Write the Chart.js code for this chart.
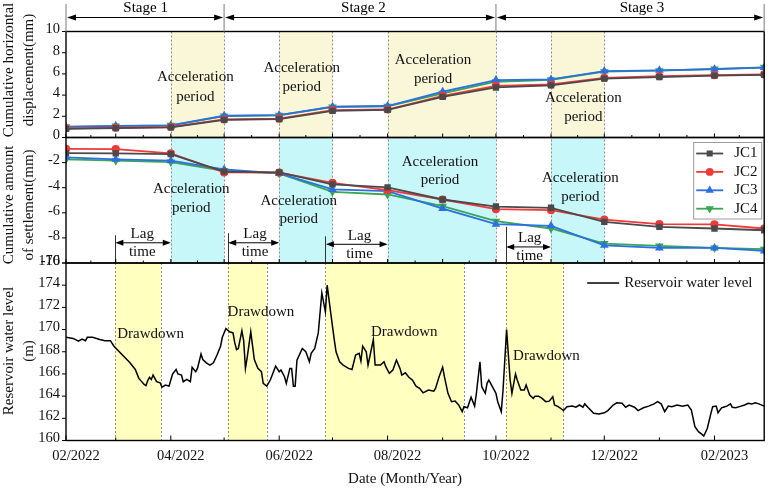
<!DOCTYPE html>
<html>
<head>
<meta charset="utf-8">
<script src="https://cdn.jsdelivr.net/npm/chart.js@4.4.1/dist/chart.umd.min.js"></script>
<style>
html,body{margin:0;padding:0;background:#fff;}
canvas{display:block;}
</style>
</head>
<body>
<canvas id="c" width="770" height="488"></canvas>
<script>
// ---------------- DATA ----------------
// days counted from 1 Feb 2022
const measureDays = [0, 28, 59, 89, 120, 150, 181, 212, 242, 273, 303, 334, 365, 393];

const dispJC1 = [0.82, 0.88, 0.95, 1.66, 1.74, 2.52, 2.60, 3.83, 4.72, 4.92, 5.56, 5.70, 5.84, 5.90];
const dispJC2 = [0.87, 0.92, 0.99, 1.70, 1.78, 2.58, 2.64, 3.92, 4.87, 5.00, 5.62, 5.78, 5.88, 5.95];
const dispJC3 = [1.00, 1.10, 1.15, 2.05, 2.12, 2.90, 2.97, 4.32, 5.42, 5.48, 6.27, 6.34, 6.45, 6.60];
const dispJC4 = [1.02, 1.08, 1.15, 2.02, 2.10, 2.88, 2.95, 4.17, 5.26, 5.45, 6.21, 6.30, 6.46, 6.62];

const settleJC1 = [-1.24, -1.26, -1.32, -2.72, -2.78, -3.74, -3.98, -4.94, -5.50, -5.60, -6.72, -7.12, -7.25, -7.39];
const settleJC2 = [-0.90, -0.92, -1.26, -2.78, -2.80, -3.61, -4.19, -4.94, -5.71, -5.79, -6.54, -6.91, -6.93, -7.25];
const settleJC3 = [-1.58, -1.74, -1.85, -2.54, -2.86, -4.14, -4.27, -5.66, -6.91, -7.04, -8.59, -8.80, -8.80, -9.04];
const settleJC4 = [-1.74, -1.85, -1.96, -2.65, -2.86, -4.33, -4.54, -5.47, -6.67, -7.25, -8.45, -8.64, -8.80, -8.90];

const waterDays = [0,4,7,9,11,12,15,19,22,25,27,30,33,36,39,41,44,45,46,47,48,49,51,53,54,56,58,60,62,63,65,66,68,70,71,73,74,76,77,79,81,83,85,87,88,90,92,94,95,96,97,99,100,101,102,104,106,108,110,111,113,115,118,120,121,123,124,126,127,128,129,130,133,135,137,138,140,142,144,146,147,149,151,152,154,156,159,161,163,165,166,167,169,170,171,173,174,177,179,180,182,184,186,188,189,191,193,195,197,199,201,204,207,208,210,212,213,215,217,219,221,223,224,226,228,230,231,233,234,236,237,238,240,242,243,245,246,248,250,251,253,254,256,258,259,261,263,264,266,268,270,272,274,275,277,278,280,282,285,287,289,291,292,294,297,300,303,305,308,310,313,315,317,320,322,325,328,331,333,335,337,339,341,344,347,350,352,354,356,358,359,361,363,364,366,367,369,370,372,374,375,377,380,382,384,386,388,390,393];
const waterLevel = [169.3,169.2,168.95,169.15,169.0,169.3,169.3,169.1,169.0,169.0,168.5,168.0,167.5,167.0,166.4,165.6,165.05,164.95,165.4,165.7,165.5,165.9,165.3,165.2,164.8,165.0,164.9,166.0,166.4,166.0,165.9,165.3,165.5,165.3,166.6,166.2,166.5,167.8,167.3,167.0,166.8,167.0,167.7,168.5,169.3,170.1,169.8,169.7,168.8,168.2,168.3,169.9,169.0,166.5,167.5,169.8,167.3,166.5,166.2,165.15,164.9,165.45,166.7,166.2,166.35,165.75,165.15,166.5,166.5,164.9,164.9,167.25,168.3,168.0,167.1,167.85,168.3,169.7,173.3,171.6,174.0,171.5,169.1,168.0,167.1,166.8,166.5,166.4,167.7,167.85,167.15,168.5,168.0,166.8,167.55,169.1,166.8,166.8,167.1,166.65,166.05,166.35,167.25,166.5,165.9,166.1,165.7,165.45,164.9,164.7,164.3,164.55,164.45,164.7,165.75,166.6,165.75,164.25,163.5,163.55,163.2,162.6,163.05,162.95,163.9,163.1,164.25,167.1,164.85,164.25,165.15,165.45,164.85,164.25,163.5,162.6,164.55,170.0,165.45,164.25,166.0,165.45,164.55,164.55,165.0,164.1,163.8,164.0,164.0,163.8,163.5,163.55,163.95,163.2,163.05,162.95,162.7,163.05,163.1,163.0,163.2,163.0,163.3,162.95,162.45,162.4,162.5,162.7,163.2,163.4,163.35,163.0,163.2,163.0,162.7,162.95,163.1,163.3,163.5,163.3,162.6,163.1,163.05,163.2,163.1,163.2,162.75,161.25,160.8,160.55,160.4,161.1,162.45,163.05,163.1,162.5,162.95,163.0,163.1,163.3,163.0,162.95,163.1,163.2,163.35,163.3,163.4,163.3,163.1];

const xTickDays = [0, 59, 120, 181, 242, 303, 365];
const xTickLabels = ['02/2022', '04/2022', '06/2022', '08/2022', '10/2022', '12/2022', '02/2023'];
const xMinorDays = [28, 89, 150, 212, 273, 334];
const halfMonthDays = [14, 43.5, 74, 104.5, 135, 165.5, 196.5, 227, 257.5, 288, 318.5, 349.5, 379];

const seriesNames = ['JC1', 'JC2', 'JC3', 'JC4'];
const waterName = 'Reservoir water level';

const stageBounds = [0, 89, 242, 393];
const stageNames = ['Stage 1', 'Stage 2', 'Stage 3'];
const accelPeriods = [[59, 89], [120, 150], [181, 242], [273, 303]];
const drawdownPeriods = [[27.5, 53.5], [91, 113], [146, 224], [247.5, 280]];

// ---------------- LAYOUT / STYLE (not data) ----------------
const FONT = '"Liberation Serif", "Times New Roman", serif';
const seriesStyle = [
  {color: '#4a4a4a', pointStyle: 'rect', rotation: 0},
  {color: '#f03a3a', pointStyle: 'circle', rotation: 0},
  {color: '#2c6fe0', pointStyle: 'triangle', rotation: 0},
  {color: '#38a653', pointStyle: 'triangle', rotation: 180}
];
const stageLabelDays = [44.8, 167.4, 324.2];
const accelTopText = [[72.8, 4.76], [132.7, 5.66], [206.6, 6.42], [291.2, 2.83]];
const accelMidText = [[70.5, -4.87], [131, -5.79], [210.5, -2.68], [289.5, -3.99]];
const drawdownText = [[47.6, 169.6], [109.7, 171.6], [190.4, 169.8], [270.4, 167.6]];
const lagArrows = [
  {from: 27.5, to: 59, y: -8.39, top: -7.79, tx: 42.9},
  {from: 91, to: 120, y: -8.39, top: -7.63, tx: 106.4},
  {from: 146, to: 181, y: -8.51, top: -7.87, tx: 165.2},
  {from: 247.5, to: 273, y: -8.72, top: -7.12, tx: 261}
];

const pts = (days, vals) => days.map((d, i) => ({x: d, y: vals[i]}));
const dispSeries = [dispJC1, dispJC2, dispJC3, dispJC4];
const settleSeries = [settleJC1, settleJC2, settleJC3, settleJC4];

const datasets = [];
dispSeries.forEach((vals, i) => datasets.push({
  label: seriesNames[i], yAxisID: 'yTop', data: pts(measureDays, vals),
  borderColor: seriesStyle[i].color, backgroundColor: seriesStyle[i].color,
  pointStyle: seriesStyle[i].pointStyle, pointRotation: seriesStyle[i].rotation,
  pointRadius: 3.2, borderWidth: 1.8, tension: 0
}));
settleSeries.forEach((vals, i) => datasets.push({
  label: seriesNames[i], yAxisID: 'yMid', data: pts(measureDays, vals),
  borderColor: seriesStyle[i].color, backgroundColor: seriesStyle[i].color,
  pointStyle: seriesStyle[i].pointStyle, pointRotation: seriesStyle[i].rotation,
  pointRadius: 3.2, borderWidth: 1.8, tension: 0
}));
datasets.push({
  label: waterName, yAxisID: 'yBot', data: pts(waterDays, waterLevel),
  borderColor: '#000', backgroundColor: '#000', pointRadius: 0, borderWidth: 1.5, tension: 0
});

// ---------------- helpers ----------------
function arrowHead(ctx, xTip, y, dir, len, hw) {
  ctx.beginPath();
  ctx.moveTo(xTip, y);
  ctx.lineTo(xTip - dir * len, y - hw);
  ctx.lineTo(xTip - dir * len, y + hw);
  ctx.closePath();
  ctx.fill();
}
function dblArrow(ctx, x1, x2, y, len, hw) {
  ctx.beginPath(); ctx.moveTo(x1 + 2, y); ctx.lineTo(x2 - 2, y); ctx.stroke();
  arrowHead(ctx, x1, y, -1, len, hw);
  arrowHead(ctx, x2, y, 1, len, hw);
}
function vline(ctx, x, y1, y2) {
  ctx.beginPath(); ctx.moveTo(x, y1); ctx.lineTo(x, y2); ctx.stroke();
}
function twoLines(ctx, lines, x, yc, gap) {
  const n = lines.length;
  lines.forEach((t, i) => ctx.fillText(t, x, yc + (i - (n - 1) / 2) * gap));
}

const decor = {
  id: 'decor',
  beforeDatasetsDraw(chart) {
    const {ctx, scales} = chart;
    const x = scales.x, yT = scales.yTop, yM = scales.yMid, yB = scales.yBot;
    ctx.save();
    const shade = (periods, ys, color) => periods.forEach(([a, b]) => {
      const xa = x.getPixelForValue(a), xb = x.getPixelForValue(b);
      ctx.fillStyle = color;
      ctx.fillRect(xa, ys.top, xb - xa, ys.bottom - ys.top);
    });
    shade(accelPeriods, yT, '#faf6d8');
    shade(accelPeriods, yM, '#c8f7fa');
    shade(drawdownPeriods, yB, '#ffffc0');

    ctx.setLineDash([2, 2]);
    ctx.strokeStyle = '#8c8c8c';
    ctx.lineWidth = 1;
    accelPeriods.forEach(p => p.forEach(d => vline(ctx, Math.round(x.getPixelForValue(d)) + 0.5, yT.top, yM.bottom)));
    drawdownPeriods.forEach(p => p.forEach(d => vline(ctx, Math.round(x.getPixelForValue(d)) + 0.5, yB.top, yB.bottom)));
    ctx.setLineDash([]);

    // annotation texts
    ctx.fillStyle = '#111';
    ctx.font = '15px ' + FONT;
    ctx.textAlign = 'center';
    ctx.textBaseline = 'middle';
    accelTopText.forEach(([d, v]) => twoLines(ctx, ['Acceleration', 'period'], x.getPixelForValue(d), yT.getPixelForValue(v), 19.5));
    accelMidText.forEach(([d, v]) => twoLines(ctx, ['Acceleration', 'period'], x.getPixelForValue(d), yM.getPixelForValue(v), 18.5));
    drawdownText.forEach(([d, v]) => ctx.fillText('Drawdown', x.getPixelForValue(d), yB.getPixelForValue(v)));
    lagArrows.forEach(l => {
      const ay = yM.getPixelForValue(l.y);
      ctx.fillText('Lag', x.getPixelForValue(l.tx), ay - 8.5);
      ctx.fillText('time', x.getPixelForValue(l.tx), ay + 9.5);
    });
    ctx.restore();
  },
  afterDatasetsDraw(chart) {
    const {ctx, scales, chartArea} = chart;
    const x = scales.x, yT = scales.yTop, yM = scales.yMid, yB = scales.yBot;
    const L = chartArea.left, R = chartArea.right;
    ctx.save();
    ctx.fillStyle = '#000';
    ctx.strokeStyle = '#000';

    // lag arrows
    ctx.lineWidth = 1;
    lagArrows.forEach(l => {
      const ay = yM.getPixelForValue(l.y);
      const x1 = x.getPixelForValue(l.from), x2 = x.getPixelForValue(l.to);
      ctx.strokeStyle = '#333';
      vline(ctx, Math.round(x1) + 0.5, yM.getPixelForValue(l.top), yM.bottom);
      ctx.strokeStyle = '#000';
      dblArrow(ctx, x1 + 0.5, x2, ay, 8, 3);
    });

    // panel frames
    ctx.lineWidth = 1.4;
    [yT, yM, yB].forEach(s => ctx.strokeRect(L, s.top, R - L, s.bottom - s.top));

    // y tick marks (outward)
    ctx.lineWidth = 1;
    [yT, yM, yB].forEach(s => s.ticks.forEach(t => {
      const py = s.getPixelForValue(t.value);
      ctx.beginPath(); ctx.moveTo(L - 4, py); ctx.lineTo(L, py); ctx.stroke();
    }));
    // x ticks (inward)
    const xt = (d, y0, len) => { const px = x.getPixelForValue(d); ctx.beginPath(); ctx.moveTo(px, y0); ctx.lineTo(px, y0 - len); ctx.stroke(); };
    xTickDays.forEach(d => xt(d, yB.bottom, 5));
    xMinorDays.forEach(d => xt(d, yB.bottom, 3));
    [yT, yM].forEach(s => {
      xTickDays.concat(xMinorDays).forEach(d => xt(d, s.bottom, 4));
      halfMonthDays.forEach(d => xt(d, s.bottom, 2.5));
    });

    // stage arrows
    ctx.strokeStyle = '#999';
    ctx.lineWidth = 1.3;
    stageBounds.forEach(d => vline(ctx, x.getPixelForValue(d), 4, yT.top));
    ctx.strokeStyle = '#000';
    ctx.lineWidth = 1;
    for (let i = 0; i < stageNames.length; i++) {
      const xa = x.getPixelForValue(stageBounds[i]) + 1, xb = x.getPixelForValue(stageBounds[i + 1]) - 1;
      dblArrow(ctx, xa, xb, 17.5, 9, 3);
    }
    ctx.font = '15px ' + FONT;
    ctx.textAlign = 'center';
    ctx.textBaseline = 'middle';
    stageNames.forEach((n, i) => ctx.fillText(n, x.getPixelForValue(stageLabelDays[i]), 8));

    // legend (settlement panel)
    const lx = R - 71, ly = yM.top + 4.5;
    ctx.fillStyle = '#fff';
    ctx.fillRect(lx, ly, 68, 76.5);
    ctx.strokeStyle = '#9a9a9a';
    ctx.lineWidth = 1;
    ctx.strokeRect(lx + 0.5, ly + 0.5, 68, 76.5);
    seriesNames.forEach((n, i) => {
      const yy = ly + 11.5 + i * 18.4;
      const st = seriesStyle[i];
      ctx.strokeStyle = st.color;
      ctx.fillStyle = st.color;
      ctx.lineWidth = 1.8;
      ctx.beginPath(); ctx.moveTo(lx + 3, yy); ctx.lineTo(lx + 30, yy); ctx.stroke();
      Chart.helpers.drawPoint(ctx, {pointStyle: st.pointStyle, rotation: st.rotation, radius: 3, borderWidth: 1}, lx + 16.5, yy);
      ctx.fillStyle = '#111';
      ctx.textAlign = 'left';
      ctx.fillText(n, lx + 41, yy);
    });

    // legend (water level)
    const wy = yB.top + 20;
    ctx.strokeStyle = '#000';
    ctx.lineWidth = 1.5;
    ctx.beginPath(); ctx.moveTo(R - 177, wy); ctx.lineTo(R - 145, wy); ctx.stroke();
    ctx.fillStyle = '#111';
    ctx.textAlign = 'left';
    ctx.fillText(waterName, R - 140, wy);

    // axis titles
    ctx.textAlign = 'center';
    ctx.textBaseline = 'middle';
    ctx.fillText('Date (Month/Year)', 405, 479);
    const vtitle = (lines, cy) => {
      ctx.save();
      ctx.translate(19, cy);
      ctx.rotate(-Math.PI / 2);
      lines.forEach((t, i) => ctx.fillText(t, 0, (i - (lines.length - 1) / 2) * 20));
      ctx.restore();
    };
    vtitle(['Cumulative horizontal', 'displacement(mm)'], 70);
    vtitle(['Cumulative amount', 'of settlement(mm)'], 205);
    vtitle(['Reservoir water level', '(m)'], 351);
    ctx.restore();
  }
};

const yCommon = (min, max) => ({
  type: 'linear', position: 'left', stack: 'panels', min, max,
  grid: {display: false, drawTicks: false},
  border: {display: false},
  ticks: {stepSize: 2, autoSkip: false, color: '#111', padding: 6, labelOffset: -2, font: {family: FONT, size: 14.5}},
  afterFit: s => { s.width = 66; }
});

new Chart(document.getElementById('c'), {
  type: 'line',
  data: {datasets},
  options: {
    responsive: false,
    animation: false,
    devicePixelRatio: 1,
    parsing: true,
    layout: {padding: {top: 31.5, right: 2, left: 0, bottom: 0}},
    plugins: {legend: {display: false}, tooltip: {enabled: false}},
    scales: {
      x: {
        type: 'linear', position: 'bottom', min: 0, max: 393,
        grid: {display: false, drawTicks: false},
        border: {display: false},
        ticks: {
          color: '#111', padding: 7, labelOffset: 10, autoSkip: false, maxRotation: 0,
          font: {family: FONT, size: 14.5},
          callback: v => { const i = xTickDays.indexOf(v); return i >= 0 ? xTickLabels[i] : ''; }
        },
        afterBuildTicks: s => { s.ticks = xTickDays.map(v => ({value: v})); },
        afterFit: s => { s.height = 47.5; }
      },
      yBot: Object.assign(yCommon(160, 176), {stackWeight: 177.5}),
      yMid: Object.assign(yCommon(-10, 0), {stackWeight: 125.5,
        afterBuildTicks: s => { s.ticks = s.ticks.filter(t => t.value !== 0); }}),
      yTop: Object.assign(yCommon(0, 10), {stackWeight: 106})
    }
  },
  plugins: [decor]
});
</script>
</body>
</html>
